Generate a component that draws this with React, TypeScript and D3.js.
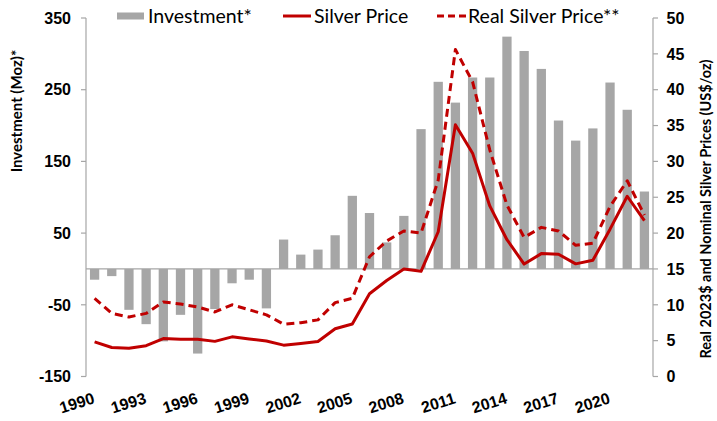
import React from "react";
import * as d3 from "d3";

const years: number[] = d3.range(1990, 2023);
const investment: number[] = [-15, -10, -57, -77, -101, -64, -118, -56, -20, -15, -55, 41, 20, 27, 47, 102, 78, 37, 74, 195, 261, 232, 267, 267, 324, 304, 279, 207, 179, 196, 260, 222, 108];
const silverPrice: number[] = [4.82, 4.04, 3.94, 4.3, 5.29, 5.2, 5.2, 4.9, 5.53, 5.22, 4.95, 4.37, 4.6, 4.88, 6.66, 7.32, 11.55, 13.38, 14.99, 14.67, 20.19, 35.12, 31.15, 23.79, 19.08, 15.68, 17.14, 17.05, 15.71, 16.21, 20.55, 25.14, 21.73];
const realSilverPrice: number[] = [10.9, 8.8, 8.3, 8.8, 10.4, 10.1, 9.7, 9.0, 10.0, 9.3, 8.6, 7.3, 7.5, 7.9, 10.3, 10.9, 16.7, 18.9, 20.3, 20.0, 27.4, 45.6, 41.1, 31.6, 23.9, 19.4, 20.8, 20.3, 18.3, 18.6, 23.7, 27.3, 22.5];
const leftTicks: number[] = [-150, -50, 50, 150, 250, 350];
const rightTicks: number[] = [0, 5, 10, 15, 20, 25, 30, 35, 40, 45, 50];
const xLabelYears: number[] = [1990, 1993, 1996, 1999, 2002, 2005, 2008, 2011, 2014, 2017, 2020];

const W = 717, H = 421;
const L = 86, R = 653, T = 18, B = 376.5;
const GRAY = "#a6a6a6";
const RED = "#c00000";
const TICKFONT = "'Liberation Sans', Arial, sans-serif";
const TITLEFONT = "Lato, 'Open Sans', sans-serif";

export default function App() {
  const x = d3.scaleBand<number>().domain(years).range([L, R]).paddingInner(0.46).paddingOuter(0.23);
  const yL = d3.scaleLinear().domain([-150, 350]).range([B, T]);
  const yR = d3.scaleLinear().domain([0, 50]).range([B, T]);
  const cx = (yr: number) => (x(yr) as number) + x.bandwidth() / 2;
  const line = d3.line<number>().x((_, i) => cx(years[i])).y((d) => yR(d));

  return (
    <svg width={W} height={H} style={{ position: "absolute", left: 0, top: 0, background: "#fff" }}>
      {/* bars */}
      {investment.map((v, i) => (
        <rect key={i} x={x(years[i])} width={x.bandwidth()} y={Math.min(yL(v), yL(0))} height={Math.abs(yL(v) - yL(0))} fill={GRAY} />
      ))}
      {/* zero line */}
      <line x1={L} x2={R} y1={yL(0)} y2={yL(0)} stroke={GRAY} strokeWidth={1.2} />
      {/* left axis */}
      <line x1={L} x2={L} y1={T} y2={B} stroke={GRAY} strokeWidth={1.2} />
      {leftTicks.map((t) => (
        <g key={t}>
          <line x1={L - 5} x2={L} y1={yL(t)} y2={yL(t)} stroke={GRAY} strokeWidth={1.2} />
          <text x={L - 15} y={yL(t)} dy="0.36em" textAnchor="end" fontFamily={TICKFONT} fontWeight="bold" fontSize={16} fill="#000">{t}</text>
        </g>
      ))}
      {/* right axis */}
      <line x1={R} x2={R} y1={T} y2={B} stroke={GRAY} strokeWidth={1.2} />
      {rightTicks.map((t) => (
        <g key={t}>
          <line x1={R} x2={R + 5} y1={yR(t)} y2={yR(t)} stroke={GRAY} strokeWidth={1.2} />
          <text x={R + 13.5} y={yR(t)} dy="0.36em" textAnchor="start" fontFamily={TICKFONT} fontWeight="bold" fontSize={16} fill="#000">{t}</text>
        </g>
      ))}
      {/* x labels */}
      {xLabelYears.map((yr) => (
        <text key={yr} transform={`translate(${cx(yr) + 1},${B + 26.5}) rotate(-17)`} textAnchor="end" fontFamily={TICKFONT} fontWeight="bold" fontSize={16} fill="#000">{yr}</text>
      ))}
      {/* lines */}
      <path d={line(silverPrice) || ""} fill="none" stroke={RED} strokeWidth={3} strokeLinejoin="round" />
      <path d={line(realSilverPrice) || ""} fill="none" stroke={RED} strokeWidth={3} strokeDasharray="8,5" strokeLinejoin="round" />
      {/* axis titles */}
      <text transform={`translate(22,111) rotate(-90)`} textAnchor="middle" fontFamily={TITLEFONT} fontWeight="bold" fontSize={15} fill="#000">Investment (Moz)*</text>
      <text transform={`translate(711,209) rotate(-90)`} textAnchor="middle" fontFamily={TITLEFONT} fontWeight="bold" fontSize={14.5} fill="#000">Real 2023$ and Nominal Silver Prices (US$/oz)</text>
      {/* legend */}
      <rect x={117} y={12.5} width={27} height={7} fill={GRAY} />
      <text x={148} y={23} fontFamily={TITLEFONT} fontSize={19.5} fill="#000">Investment*</text>
      <line x1={283} x2={311} y1={16} y2={16} stroke={RED} strokeWidth={3} />
      <text x={314} y={23} fontFamily={TITLEFONT} fontSize={19.5} fill="#000">Silver Price</text>
      <line x1={437} x2={466} y1={16} y2={16} stroke={RED} strokeWidth={3} strokeDasharray="7,4" />
      <text x={468} y={23} fontFamily={TITLEFONT} fontSize={19.5} fill="#000">Real Silver Price**</text>
    </svg>
  );
}
